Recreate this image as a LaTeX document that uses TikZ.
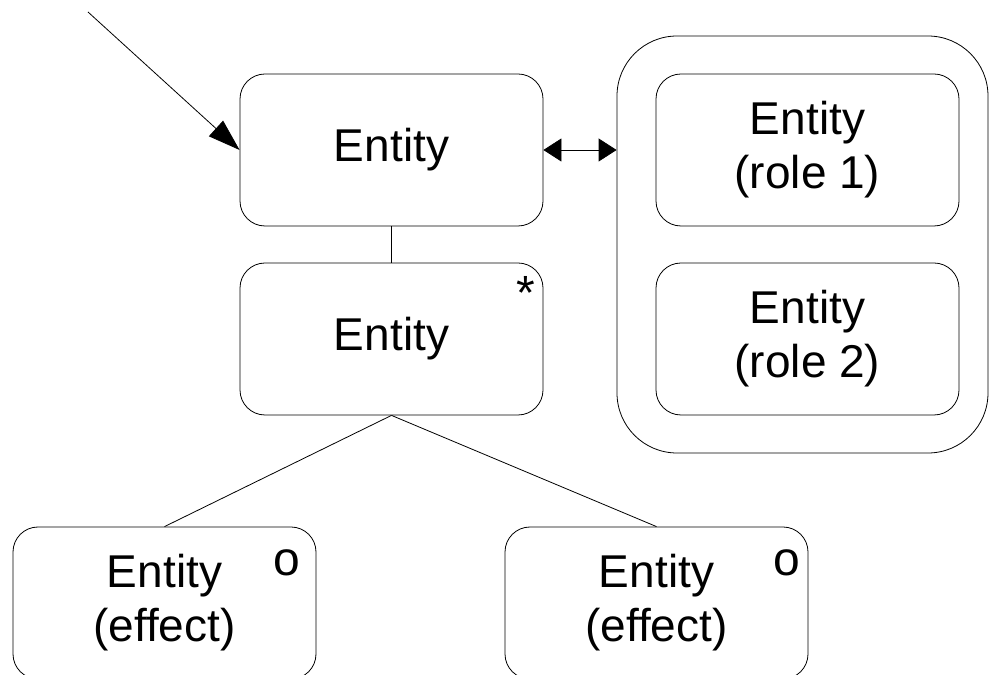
\documentclass[tikz,border=0pt]{standalone}
\usepackage{fontspec}
\setmainfont{Liberation Sans}
\usetikzlibrary{arrows.meta}
\begin{document}
\begin{tikzpicture}[x=1pt, y=1pt, node distance={189pt}, line width=0.8pt,
    main/.style = {draw, rectangle, rounded corners=25pt, minimum width=303pt, minimum height=152pt, align=center, font=\fontsize{46}{54}\selectfont},
    corner/.style = {inner sep=0pt, font=\fontsize{48}{48}\selectfont}]
        \useasboundingbox (0,0) rectangle (989,675);
        \node[main] (1) at (391.5,525) {Entity};
        \node[main] (2) [below of=1] {Entity};
        \node[main] (3) at (807.5,525) {Entity\\(role 1)};
        \node[main] (4) [below of=3] {Entity\\(role 2)};
        \node[draw, rounded corners=60pt, minimum width=371pt, minimum height=417pt] (5) at (802.5,430.5) {};
        \node[main] (6) at (164.5,72) {Entity\\(effect)};
        \node[main] (7) at (656.5,72) {Entity\\(effect)};
        \node[corner] (s2) at (526,382) {*};
        \node[corner] (o6) at (287,112) {o};
        \node[corner] (o7) at (787,112) {o};
        \coordinate (in) at (88,663);
        \draw[-{Triangle[length=32pt,width=21pt]}] (in) -- (1.west);
        \draw[{Triangle[length=18pt,width=23pt]}-{Triangle[length=18pt,width=23pt]}] (1.east) -- (1.east -| 5.west);
        \draw (1) -- (2);
        \draw (2.south) -- (6.north);
        \draw (2.south) -- (7.north);
    \end{tikzpicture}
\end{document}
